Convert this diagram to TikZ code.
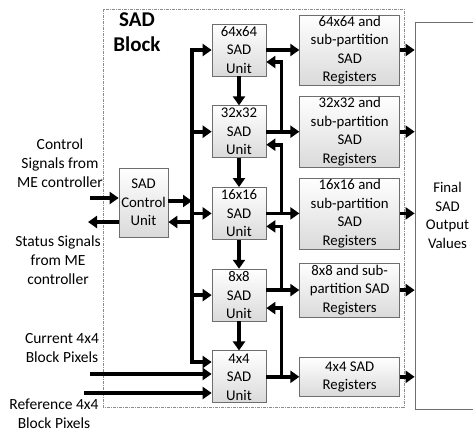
\documentclass[tikz,border=0pt]{standalone}
\usepackage{fontspec}
\setmainfont{Carlito}
\usepackage{tikz}
\usetikzlibrary{
  arrows.meta,
  positioning,
  calc
}
\definecolor{boxBorder}{RGB}{110, 110, 110}
\definecolor{boxShade}{RGB}{218, 218, 218}
\definecolor{blockBorder}{RGB}{140, 140, 140}

\begin{document}
\begin{tikzpicture}[
    x=1pt, y=-1pt,
    font=\fontsize{14.8}{18.5}\selectfont,
    node distance=29pt and 33pt,
    unit/.style={rectangle, draw=boxBorder, line width=0.7pt, top color=white, bottom color=boxShade, align=center, inner sep=0pt, minimum width=54pt, minimum height=52pt},
    reg/.style={unit, minimum width=100pt},
    final/.style={rectangle, draw=boxBorder, line width=0.7pt, align=center, minimum width=65pt, minimum height=387pt},
    label/.style={align=center, inner sep=0pt, font=\fontsize{15.5}{19}\selectfont},
    bus/.style={-{Triangle[length=9pt, width=12pt]}, line width=3.6pt}
]
    \useasboundingbox (0,0) rectangle (473,434);

    % SAD block border
    \draw[draw=blockBorder, line width=0.7pt, dash pattern=on 3pt off 1pt on 1pt off 1pt] (103,9) rectangle (404,407);
    \node[align=center, inner sep=0pt, font=\fontsize{21}{25}\selectfont\bfseries] (blocktxt) at (137,32) {SAD\\Block};

    % SAD units
    \node[unit] (u64) at (239,50) {64x64\\SAD\\Unit};
    \node[unit, below=of u64] (u32) {32x32\\SAD\\Unit};
    \node[unit, below=of u32] (u16) {16x16\\SAD\\Unit};
    \node[unit, below=of u16] (u8) {8x8\\SAD\\Unit};
    \node[unit, below=of u8] (u4) {4x4\\SAD\\Unit};

    % registers
    \node[reg, right=of u64, minimum height=70pt] (r64) {64x64 and\\sub-partition\\SAD\\Registers};
    \node[reg, right=of u32, minimum height=71pt] (r32) {32x32 and\\sub-partition\\SAD\\Registers};
    \node[reg, right=of u16, minimum height=71pt] (r16) {16x16 and\\sub-partition\\SAD\\Registers};
    \node[reg, right=of u8, minimum height=54pt, yshift=5pt] (r8) {8x8 and sub-\\partition SAD\\Registers};
    \node[reg, right=of u4, minimum height=39pt] (r4) {4x4 SAD\\Registers};

    \node[final] (final) at (447.5,215.5) {Final\\SAD\\Output\\Values};

    % control unit
    \node[unit, minimum width=49pt, minimum height=69pt] (ctrl) at (143.5,202.5) {SAD\\Control\\Unit};

    % outside labels
    \node[label] (ctltxt) at (60,163) {Control\\Signals from\\ME controller};
    \node[label] (stattxt) at (58,260) {Status Signals\\from ME\\controller};
    \node[label] (curtxt) at (62,348) {Current 4x4\\Block Pixels};
    \node[label] (reftxt) at (54,414) {Reference 4x4\\Block Pixels};

    \coordinate (bus) at (192,362);
    \coordinate (ctlin) at (90,198);
    \coordinate (statout) at (88,222);
    \coordinate (curin) at (90,374);
    \coordinate (refin) at (84,393);

    % control bus
    \draw[bus, {Triangle[length=9pt, width=12pt]}-{Triangle[length=9pt, width=12pt]}] (u64.west) -| (bus) -- (bus -| u4.west);
    \foreach \u in {u32,u16,u8}
        \draw[bus] (\u.west -| bus) -- (\u.west);
    \draw[bus] ([yshift=1.5pt]ctrl.east) -- ([yshift=1.5pt]ctrl.east -| bus);
    \draw[bus] ([yshift=-19.5pt]ctrl.east -| bus) -- ([yshift=-19.5pt]ctrl.east);

    \draw[bus] (ctlin) -- (ctlin -| ctrl.west);
    \draw[bus] (statout -| ctrl.west) -- (statout);
    \draw[bus] (curin) -- (curin -| u4.west);
    \draw[bus] (refin) -- (refin -| u4.west);

    % unit chain
    \draw[bus] (u64.south) -- (u32.north);
    \draw[bus] (u32.south) -- (u16.north);
    \draw[bus] (u16.south) -- (u8.north);
    \draw[bus] (u8.south) -- (u4.north);

    % units to registers, feedback
    \draw[bus] (u64.east) -- (u64.east -| r64.west);
    \draw[bus] (u32.east) -- (u32.east -| r32.west);
    \draw[bus] (u16.east) -- (u16.east -| r16.west);
    \draw[bus] (r8.west -| u8.east) -- (r8.west);
    \draw[bus] (u4.east) -- (u4.east -| r4.west);

    \draw[bus] (u32.east) ++(15,0) |- ([yshift=-12pt]u64.east);
    \draw[bus] (u16.east) ++(15,0) |- ([yshift=-13pt]u32.east);
    \draw[bus] (r8.west -| u8.east) ++(15,0) |- ([yshift=-13pt]u16.east);
    \draw[bus] (u4.east) ++(15,0) |- ([yshift=-13pt]u8.east);

    % registers to output
    \foreach \r in {r64,r32,r16,r8,r4}
        \draw[bus] (\r.east) -- (\r.east -| final.west);

\end{tikzpicture}
\end{document}
